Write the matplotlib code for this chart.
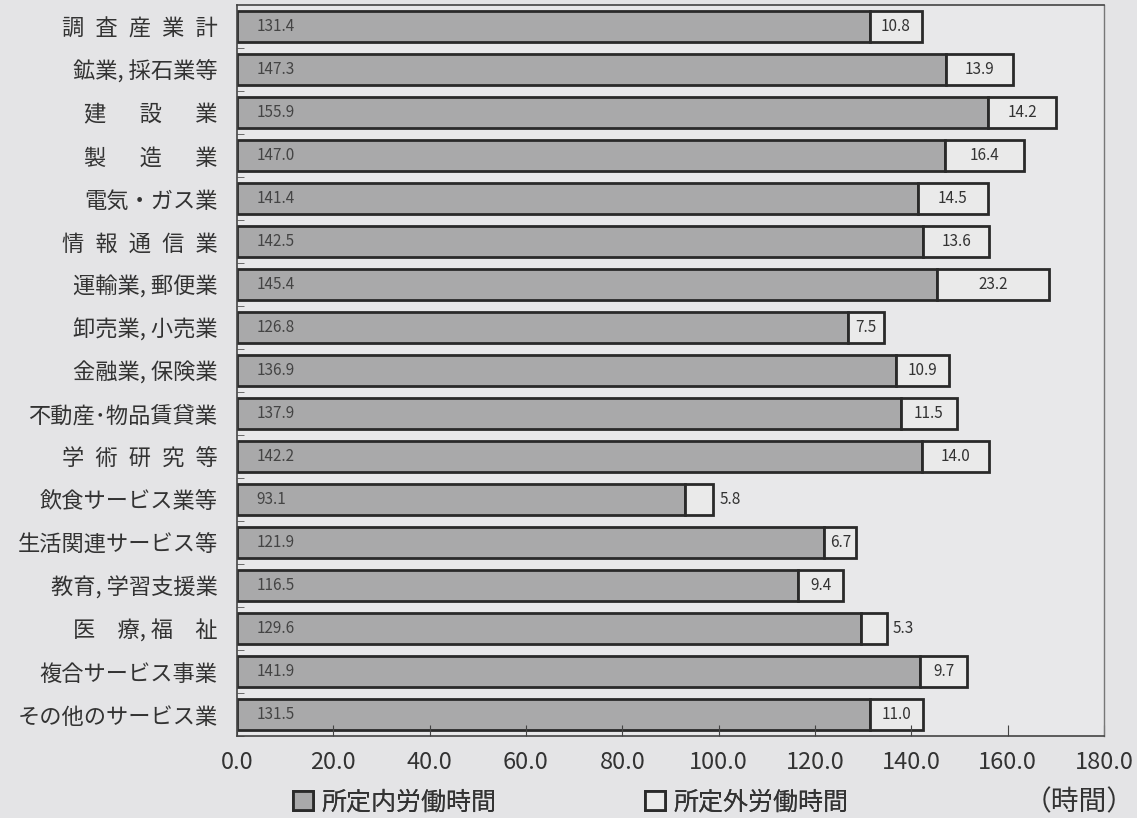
import numpy as np
import matplotlib.pyplot as plt
from matplotlib.patches import Patch

plt.rcParams['font.family'] = ['Noto Sans CJK JP', 'DejaVu Sans']

# Data
industries = ['調\u2002査\u2002産\u2002業\u2002計', '鉱業, 採石業等', '建\u3000\u2002設\u3000\u2002業',
              '製\u3000\u2002造\u3000\u2002業', '電気・ガス業', '情\u2002報\u2002通\u2002信\u2002業',
              '運輸業, 郵便業', '卸売業, 小売業', '金融業, 保険業', '不動産･物品賃貸業',
              '学\u2002術\u2002研\u2002究\u2002等', '飲食サービス業等', '生活関連サービス等',
              '教育, 学習支援業', '医\u3000療, 福\u3000祉', '複合サービス事業', 'その他のサービス業']
scheduled = [131.4, 147.3, 155.9, 147.0, 141.4, 142.5, 145.4, 126.8, 136.9, 137.9,
             142.2, 93.1, 121.9, 116.5, 129.6, 141.9, 131.5]
overtime = [10.8, 13.9, 14.2, 16.4, 14.5, 13.6, 23.2, 7.5, 10.9, 11.5,
            14.0, 5.8, 6.7, 9.4, 5.3, 9.7, 11.0]
xticks = [0, 20, 40, 60, 80, 100, 120, 140, 160, 180]
legend_labels = ['所定内労働時間', '所定外労働時間']

bg = '#e4e4e6'
dark_fill = '#a9a9aa'
light_fill = '#eaeaea'
edge = '#2a2a2a'

fig = plt.figure(figsize=(11.37, 8.18), dpi=100, facecolor=bg)
ax = fig.add_axes([237 / 1137, 1 - 736 / 818, 867 / 1137, 731 / 818])
ax.set_facecolor('#e8e8ea')

y = np.arange(len(industries))
ax.barh(y, scheduled, height=0.7, color=dark_fill, edgecolor=edge, linewidth=2)
ax.barh(y, overtime, left=scheduled, height=0.7, color=light_fill, edgecolor=edge, linewidth=2)

for i in range(len(industries)):
    ax.text(4.0, y[i], f'{scheduled[i]:.1f}', va='center', ha='left',
            fontsize=11, color='#444444')
    end = scheduled[i] + overtime[i]
    if overtime[i] < 6:
        ax.text(end + 1.2, y[i], f'{overtime[i]:.1f}', va='center', ha='left',
                fontsize=11, color='#333333')
    else:
        ax.text(scheduled[i] + overtime[i] / 2, y[i], f'{overtime[i]:.1f}',
                va='center', ha='center', fontsize=11, color='#333333')

ax.set_xlim(0, 180)
ax.set_ylim(len(industries) - 0.5, -0.5)
ax.set_xticks(xticks)
ax.set_xticklabels([f'{v:.1f}' for v in xticks], fontsize=17, color='#333333')
ax.tick_params(axis='x', direction='in', length=8, pad=11, color='#444444')
ax.set_yticks(y)
ax.set_yticklabels(industries, fontsize=16, color='#333333')
ax.tick_params(axis='y', length=0, pad=14)
ax.set_yticks(np.arange(len(industries)) + 0.5, minor=True)
ax.tick_params(axis='y', which='minor', direction='in', length=5, color='#555555')

for side in ['left', 'bottom', 'top']:
    ax.spines[side].set_color('#444444')
    ax.spines[side].set_linewidth(1.2)
ax.spines['right'].set_color('#777777')
ax.spines['right'].set_linewidth(1)

# two separate legend entries, placed like the original
for label, fill, xpos in zip(legend_labels, [dark_fill, light_fill], [293 / 1137, 645 / 1137]):
    h = Patch(facecolor=fill, edgecolor=edge, linewidth=2, label=label)
    leg = fig.legend(handles=[h], loc='center left', bbox_to_anchor=(xpos, 0.019),
                     frameon=False, fontsize=18, handlelength=0.8, handleheight=0.8,
                     handletextpad=0.35, borderpad=0, borderaxespad=0, labelcolor='#333333')
    fig.add_artist(leg)

fig.text(0.998, 0.019, '（時間）', ha='right', va='center', fontsize=20, color='#333333')

fig.savefig('out.png', dpi=100, facecolor=bg)
